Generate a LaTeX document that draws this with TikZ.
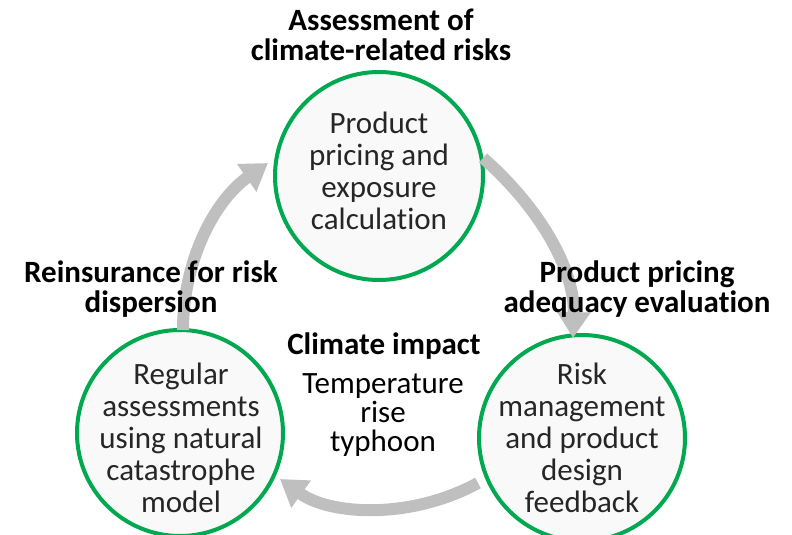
\documentclass[tikz,border=0pt]{standalone}
\usepackage{fontspec}
\setmainfont[Ligatures={NoCommon}]{Carlito}
\usetikzlibrary{arrows.meta}
\definecolor{ringgreen}{RGB}{0,168,80}
\definecolor{ringfill}{RGB}{249,249,249}
\definecolor{arrowgray}{RGB}{191,191,191}
\definecolor{bodytext}{RGB}{38,38,38}
\begin{document}
\begin{tikzpicture}[x=1pt,y=-1pt,
  stage/.style={circle,draw=ringgreen,line width=4pt,fill=ringfill,minimum size=206pt,inner sep=0pt},
  stagetext/.style={align=center,text=bodytext,inner sep=0pt,font=\fontsize{31}{32}\selectfont},
  headline/.style={align=center,font=\bfseries\fontsize{31}{30}\selectfont,text=black},
  plain/.style={align=center,font=\fontsize{31}{29}\selectfont,text=black},
  flow/.style={draw=arrowgray,line width=12pt,-{Triangle[width=32pt,length=26pt]}}
]
\useasboundingbox (0,0) rectangle (792,535);
\node[stage,minimum size=208pt] (top) at (379,176) {};
\node[stage] (bl) at (180,433) {};
\node[stage] (br) at (582,438) {};
\node[stagetext] (toptext) at (379,171) {Product\\pricing and\\exposure\\calculation};
\node[stagetext] (bltext) at (181,438) {Regular\\assessments\\using natural\\catastrophe\\model};
\node[stagetext] (brtext) at (582,438) {Risk\\management\\and product\\design\\feedback};
\coordinate (a1s) at (483,158);
\coordinate (a1e) at (573,338);
\coordinate (a2s) at (478,483);
\coordinate (a2e) at (280,479);
\coordinate (a3s) at (183,330);
\coordinate (a3e) at (268,163);
\draw[flow] (a1s) .. controls (540,208) and (575,270) .. (a1e);
\draw[flow] (a2s) .. controls (410,520) and (330,515) .. (a2e);
\draw[flow] (a3s) .. controls (183,260) and (215,200) .. (a3e);
\node[headline] (h1) at (381,35) {Assessment of\\climate-related risks};
\node[headline] (h2) at (637,289) {Product pricing\\adequacy evaluation};
\node[headline] (h3) at (151,289) {Reinsurance for risk\\dispersion};
\node[headline] (h4) at (384,346) {Climate impact};
\node[plain] (t1) at (383,415) {Temperature\\rise\\typhoon};
\end{tikzpicture}
\end{document}
